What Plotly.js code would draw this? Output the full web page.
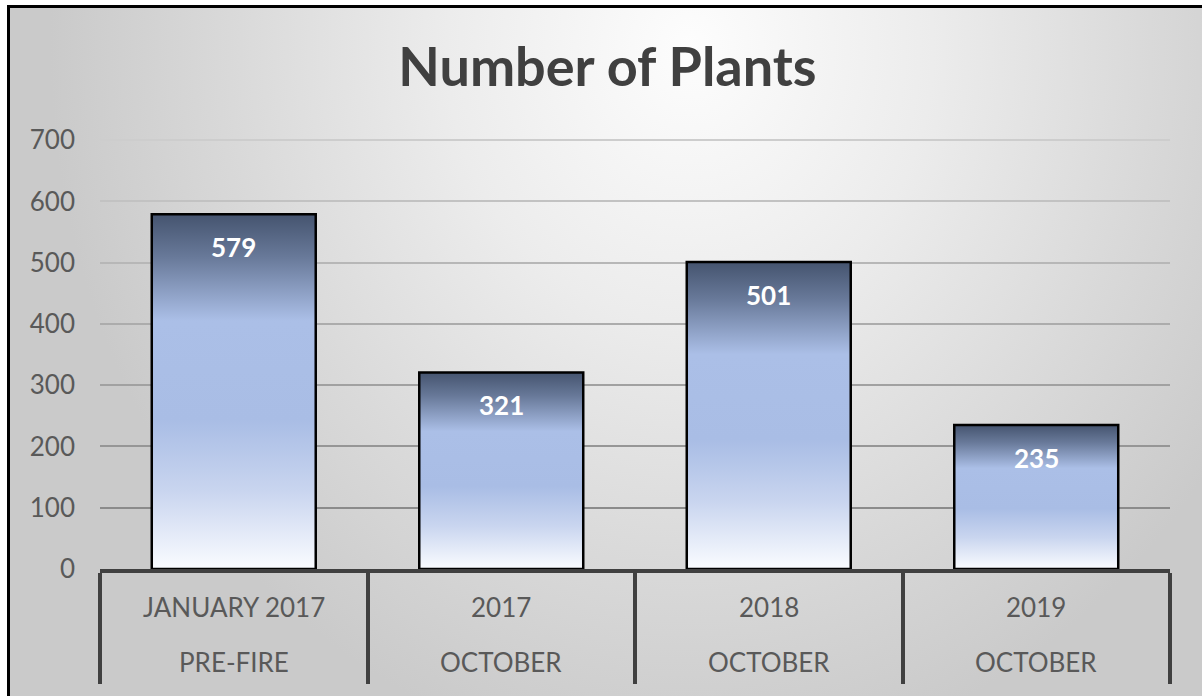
<!DOCTYPE html>
<html>
<head>
<meta charset="utf-8">
<script src="https://cdn.plot.ly/plotly-3.0.1.min.js"></script>
<style>
  html, body { margin: 0; padding: 0; width: 1202px; height: 696px; overflow: hidden; background: #ffffff; }
  #frame {
    position: absolute; left: 7px; top: 5px; width: 1300px; height: 800px;
    border-top: 3px solid #000; border-left: 3px solid #000;
    background: radial-gradient(ellipse 640px 720px at 680px 40px, #fdfdfd 0%, #ececec 38%, #d9d9d9 72%, #cacaca 100%);
  }
  #chart { position: absolute; left: 0; top: 0; width: 1202px; height: 696px; }
</style>
</head>
<body>
<div id="frame"></div>
<div id="chart"></div>
<script>
// ---- data ----
const categories = ['JANUARY 2017', '2017', '2018', '2019'];
const subLabels = ['PRE-FIRE', 'OCTOBER', 'OCTOBER', 'OCTOBER'];
const values = [579, 321, 501, 235];
const yTickVals = [0, 100, 200, 300, 400, 500, 600, 700];
const chartTitle = 'Number of Plants';

const FONT = 'Lato, "Open Sans", sans-serif';
const TEXT_GRAY = '#595959';

const trace = {
  type: 'bar',
  x: categories,
  y: values,
  width: 0.613,
  marker: { color: '#aabee6', line: { color: '#000000', width: 2.5 } },
  hoverinfo: 'none'
};

const annotations = [];
categories.forEach((c, i) => {
  annotations.push({
    x: i, xref: 'x', y: values[i], yref: 'y', yshift: -33,
    text: String(values[i]), showarrow: false, yanchor: 'middle', xanchor: 'center',
    font: { family: FONT, size: 26, color: '#ffffff', weight: 700 }
  });
  annotations.push({
    x: i, xref: 'x', y: 0, yref: 'y', yshift: -38,
    text: c, showarrow: false, yanchor: 'middle', xanchor: 'center',
    font: { family: FONT, size: 26, color: TEXT_GRAY }
  });
  annotations.push({
    x: i, xref: 'x', y: 0, yref: 'y', yshift: -93,
    text: subLabels[i], showarrow: false, yanchor: 'middle', xanchor: 'center',
    font: { family: FONT, size: 26, color: TEXT_GRAY }
  });
});

const layout = {
  width: 1202, height: 696,
  margin: { l: 100, r: 32, t: 139, b: 127, pad: 0 },
  paper_bgcolor: 'rgba(0,0,0,0)',
  plot_bgcolor: 'rgba(0,0,0,0)',
  showlegend: false,
  title: {
    text: chartTitle,
    font: { family: FONT, size: 54, color: '#404040', weight: 700 },
    xref: 'container', x: 0.5054, xanchor: 'center',
    yref: 'container', y: 0.903, yanchor: 'middle'
  },
  xaxis: {
    type: 'category',
    categoryorder: 'array', categoryarray: categories,
    range: [-0.5, 3.5],
    showticklabels: false,
    ticks: 'outside', tickson: 'boundaries', ticklen: 111, tickwidth: 4, tickcolor: '#404040',
    showline: true, linecolor: '#404040', linewidth: 4,
    showgrid: false, zeroline: false, fixedrange: true
  },
  yaxis: {
    range: [0, 702],
    tickvals: yTickVals,
    ticks: '',
    ticklabelstandoff: 24,
    tickfont: { family: FONT, size: 26, color: TEXT_GRAY },
    showgrid: true, gridcolor: '#b5b5b5', gridwidth: 2,
    zeroline: false, showline: false, fixedrange: true
  },
  annotations: annotations
};

Plotly.newPlot('chart', [trace], layout, { displayModeBar: false, staticPlot: true }).then(function (gd) {
  const svgNS = 'http://www.w3.org/2000/svg';
  const defs = gd.querySelector('.main-svg defs');
  const grad = document.createElementNS(svgNS, 'linearGradient');
  grad.setAttribute('id', 'barGrad');
  grad.setAttribute('x1', '0'); grad.setAttribute('y1', '0');
  grad.setAttribute('x2', '0'); grad.setAttribute('y2', '1');
  [[0, '#45546f'], [0.12, '#687999'], [0.3, '#abbfe7'], [0.58, '#a9bde5'], [0.78, '#c9d5ef'], [1, '#fafcff']].forEach(function (s) {
    const st = document.createElementNS(svgNS, 'stop');
    st.setAttribute('offset', s[0]);
    st.setAttribute('stop-color', s[1]);
    grad.appendChild(st);
  });
  defs.appendChild(grad);
  gd.querySelectorAll('.bars .point path').forEach(function (p) {
    p.style.fill = 'url(#barGrad)';
  });
  // gridlines darken toward the bottom of the plot area
  const top = 140, bottom = 569;
  gd.querySelectorAll('.gridlayer path.ygrid').forEach(function (p) {
    const r = p.getBoundingClientRect();
    const t = Math.min(1, Math.max(0, (r.top - top) / (bottom - top)));
    const c0 = 205, c1 = 128;
    const v = Math.round(c0 + (c1 - c0) * t);
    p.style.stroke = 'rgb(' + v + ',' + v + ',' + v + ')';
  });
});
</script>
</body>
</html>
